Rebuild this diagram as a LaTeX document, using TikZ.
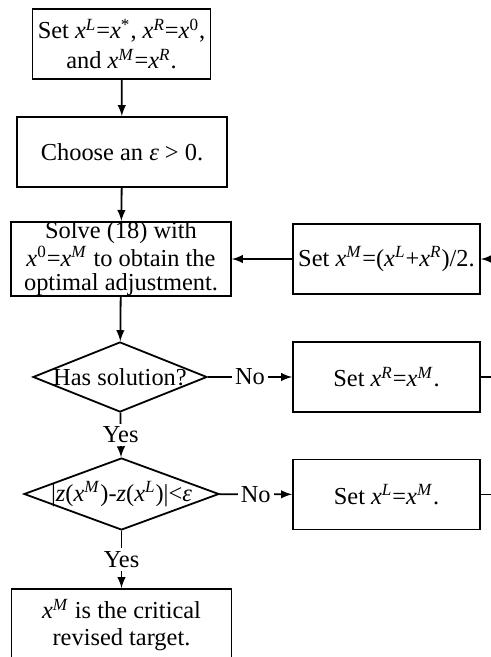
\documentclass[tikz,border=0pt]{standalone}
\usepackage{fontspec}
\setmainfont{Liberation Serif}
\usetikzlibrary{shapes.geometric}
\newcommand{\xs}[1]{\textit{x}\textsuperscript{\textit{#1}}}
\begin{document}
\begin{tikzpicture}[x=0.5pt, y=-0.5pt, font=\fontsize{12.2}{12.4}\selectfont]
    \tikzset{>=latex}
    \tikzset{box/.style={draw, line width=0.9pt, align=center, inner sep=0pt, minimum width=93.5pt, minimum height=35pt}}
    \tikzset{decision/.style={draw, diamond, line width=0.9pt, inner sep=0pt}}
    \tikzset{flow/.style={line width=0.9pt}}
    \tikzset{tag/.style={fill=white, inner sep=1.5pt}}
    \clip (0,0) rectangle (491,657);
    \fill[white] (0,0) rectangle (491,657);
    \node[box, minimum width=89pt] (init) at (121.5,44) {Set \xs{L}=\textit{x}\textsuperscript{*}, \xs{R}=\textit{x}\textsuperscript{0},\\[2.5pt] and \xs{M}=\xs{R}.};
    \node[box, minimum width=105pt] (eps) at (122,152) {Choose an \textit{ε} > 0.};
    \node[box, minimum width=110pt, minimum height=36pt] (solve) at (121,259) {Solve (18) with\\ \textit{x}\textsuperscript{0}=\xs{M} to obtain the\\ optimal adjustment.};
    \node[box] (mid) at (386.5,259) {Set \xs{M}=(\xs{L}+\xs{R})/2.};
    \node[decision, minimum width=87pt, minimum height=35pt] (hassol) at (120,377) {};
    \node at (hassol) {Has solution?};
    \node[box] (setR) at (386.5,377) {Set \xs{R}=\xs{M}.};
    \node[decision, minimum width=97.5pt, minimum height=36pt] (conv) at (121.5,494) {};
    \node at (conv) {|\textit{z}(\xs{M})-\textit{z}(\xs{L})|<\textit{ε}};
    \node[box] (setL) at (386.5,494.5) {Set \xs{L}=\xs{M}.};
    \node[box, minimum width=110pt, minimum height=36pt] (target) at (121.5,625) {\xs{M} is the critical\\[1pt] revised target.};
    \coordinate (fb) at (510,259);
    % main column
    \draw[flow,->] (init) -- (eps);
    \draw[flow,->] (eps) -- (solve);
    \draw[flow,->] (solve) -- (hassol);
    \draw[flow,->] (hassol) -- node[tag] {Yes} (conv);
    \draw[flow,->] (conv) -- node[tag] {Yes} (target);
    % No branches
    \draw[flow,->] (hassol) -- node[tag] {No} (setR);
    \draw[flow,->] (conv) -- node[tag] {No} (setL);
    % feedback to the midpoint
    \draw[flow] (setL.east) -- (setL.east -| fb) -- (setR.east -| fb);
    \draw[flow,->] (setR.east) -- (setR.east -| fb) |- (mid.east);
    \draw[flow,->] (mid) -- (solve);
\end{tikzpicture}
\end{document}
